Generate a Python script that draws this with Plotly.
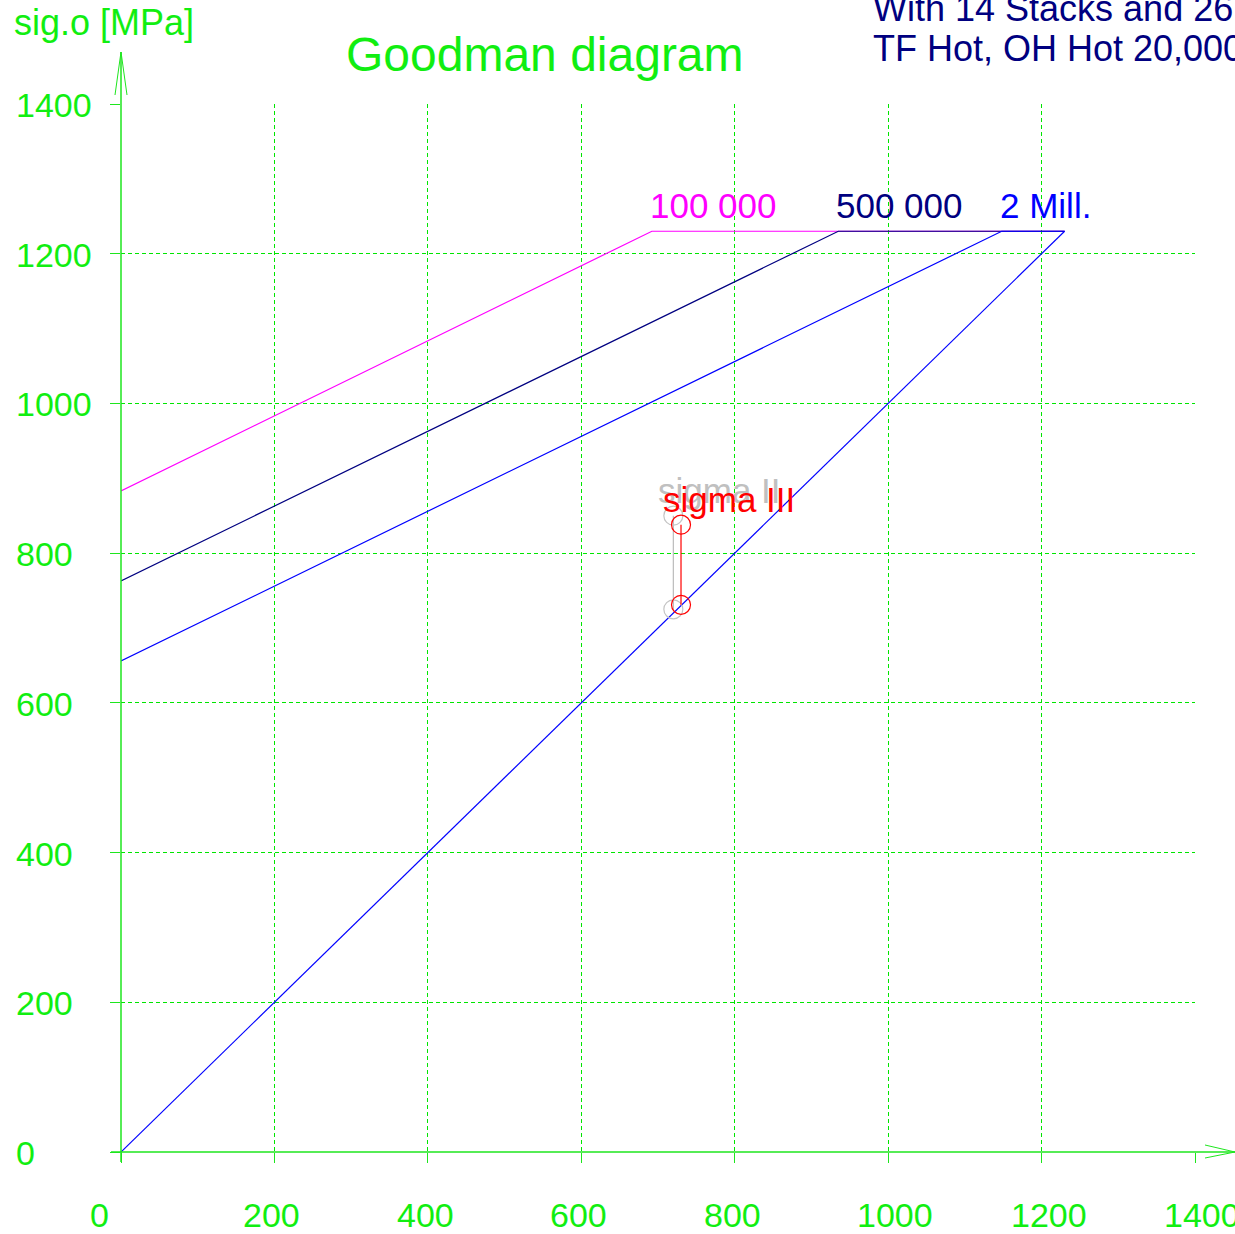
import plotly.graph_objects as go

# --- data -------------------------------------------------------------
ticks = [0, 200, 400, 600, 800, 1000, 1200, 1400]

rm = 1230  # static limit (horizontal cut-off and end of the diagonal)

life_labels = ["100 000", "500 000", "2 Mill."]
life_colors = ["#FF00FF", "#000080", "#0000FF"]
sig_o_at_zero = [883, 763, 656]      # upper stress at mean stress 0
knee_x = [692, 935, 1148]            # where each line reaches rm

diag_x = [0, rm]
diag_y = [0, rm]

sigma3_x = [730, 730]
sigma3_y = [731, 838]
sigma2_x = [720, 720]
sigma2_y = [725, 850]

# --- layout constants -------------------------------------------------
W, H = 1235, 1234
L, R, T, B = 121, 40, 104, 82
PW, PH = W - L - R, H - T - B
GREEN = "#11EE11"
AXG = "#1EE61E"
FONT = "Liberation Sans, Arial, sans-serif"


def px(xp):
    return (xp - L) / PW


def py(yp):
    return (H - B - yp) / PH


fig = go.Figure()

for lab, col, y0, kx in zip(life_labels, life_colors, sig_o_at_zero, knee_x):
    fig.add_trace(go.Scatter(
        x=[0, kx, rm], y=[y0, rm, rm], mode="lines",
        line=dict(color=col, width=1.2), cliponaxis=False, showlegend=False,
        hoverinfo="skip"))

fig.add_trace(go.Scatter(
    x=diag_x, y=diag_y, mode="lines", line=dict(color="#0000FF", width=1.2),
    cliponaxis=False, showlegend=False, hoverinfo="skip"))

fig.add_trace(go.Scatter(
    x=sigma2_x, y=sigma2_y, mode="lines+markers",
    line=dict(color="#BBBBBB", width=1.2),
    marker=dict(symbol="circle-open", size=19, color="#C4C4C4",
                line=dict(width=1.2)),
    showlegend=False))
fig.add_trace(go.Scatter(
    x=sigma3_x, y=sigma3_y, mode="lines+markers",
    line=dict(color="#FF0000", width=1.2),
    marker=dict(symbol="circle-open", size=19, color="#FF0000",
                line=dict(width=1.2)),
    showlegend=False))

ann = []
# curve labels at the start of each horizontal segment
for lab, col, kx in zip(life_labels, life_colors, knee_x):
    ann.append(dict(x=kx, y=1265, xref="x", yref="y", text=lab,
                    showarrow=False, xanchor="left", yanchor="middle",
                    xshift=-4, font=dict(family=FONT, size=35, color=col)))

ann.append(dict(x=697, y=884, xref="x", yref="y", text="sigma II",
                showarrow=False, xanchor="left", yanchor="middle",
                font=dict(family=FONT, size=35, color="#C0C0C0")))
ann.append(dict(x=704, y=871, xref="x", yref="y", text="sigma III",
                showarrow=False, xanchor="left", yanchor="middle",
                font=dict(family=FONT, size=35, color="#FF0000")))

# tick labels
for t in ticks:
    ann.append(dict(x=t, y=py(1215), xref="x", yref="paper", text=str(t),
                    showarrow=False, xanchor="left", yanchor="middle",
                    xshift=-33, font=dict(family=FONT, size=34, color=GREEN)))
    ann.append(dict(x=px(16), y=t, xref="paper", yref="y", text=str(t),
                    showarrow=False, xanchor="left", yanchor="middle",
                    xshift=-2, yshift=-1,
                    font=dict(family=FONT, size=34, color=GREEN)))

ann.append(dict(x=px(545), y=py(55), xref="paper", yref="paper",
                text="Goodman diagram", showarrow=False, xanchor="center",
                yanchor="middle", font=dict(family=FONT, size=48, color=GREEN)))
ann.append(dict(x=px(12), y=py(22), xref="paper", yref="paper",
                text="sig.o [MPa]", showarrow=False, xanchor="left",
                yanchor="middle", font=dict(family=FONT, size=36, color=GREEN)))
ann.append(dict(x=px(871), y=py(8), xref="paper", yref="paper",
                text="With 14 Stacks and 26", showarrow=False, xanchor="left",
                yanchor="middle", font=dict(family=FONT, size=36, color="#000080")))
ann.append(dict(x=px(871), y=py(48), xref="paper", yref="paper",
                text="TF Hot, OH Hot 20,000", showarrow=False, xanchor="left",
                yanchor="middle", font=dict(family=FONT, size=36, color="#000080")))

# axes drawn as lines with open arrow heads
ax_line = dict(color=AXG, width=1.5)
shapes = [
    dict(type="line", xref="paper", yref="paper", x0=px(111), x1=px(1235),
         y0=0, y1=0, line=ax_line),
    dict(type="line", xref="paper", yref="paper", x0=0, x1=0,
         y0=py(1162), y1=py(52), line=ax_line),
    dict(type="line", xref="paper", yref="paper", x0=px(115), x1=px(121),
         y0=py(95), y1=py(52), line=dict(color=AXG, width=1)),
    dict(type="line", xref="paper", yref="paper", x0=px(127), x1=px(121),
         y0=py(95), y1=py(52), line=dict(color=AXG, width=1)),
    dict(type="line", xref="paper", yref="paper", x0=px(1205), x1=px(1235),
         y0=py(1145), y1=py(1152), line=dict(color=AXG, width=1)),
    dict(type="line", xref="paper", yref="paper", x0=px(1205), x1=px(1235),
         y0=py(1158), y1=py(1152), line=dict(color=AXG, width=1)),
]

axis_common = dict(
    range=[0, 1400], tickvals=ticks, showticklabels=False,
    showgrid=True, gridcolor="#00E600", gridwidth=1.4, griddash="4px,3px",
    zeroline=False, showline=False, ticks="outside", ticklen=10,
    tickcolor=AXG, tickwidth=1, fixedrange=True,
)

fig.update_layout(
    width=W, height=H,
    margin=dict(l=L, r=R, t=T, b=B, pad=0),
    paper_bgcolor="white", plot_bgcolor="white",
    xaxis=axis_common, yaxis=axis_common,
    annotations=ann, shapes=shapes, showlegend=False,
)

fig.write_html("out.html")
